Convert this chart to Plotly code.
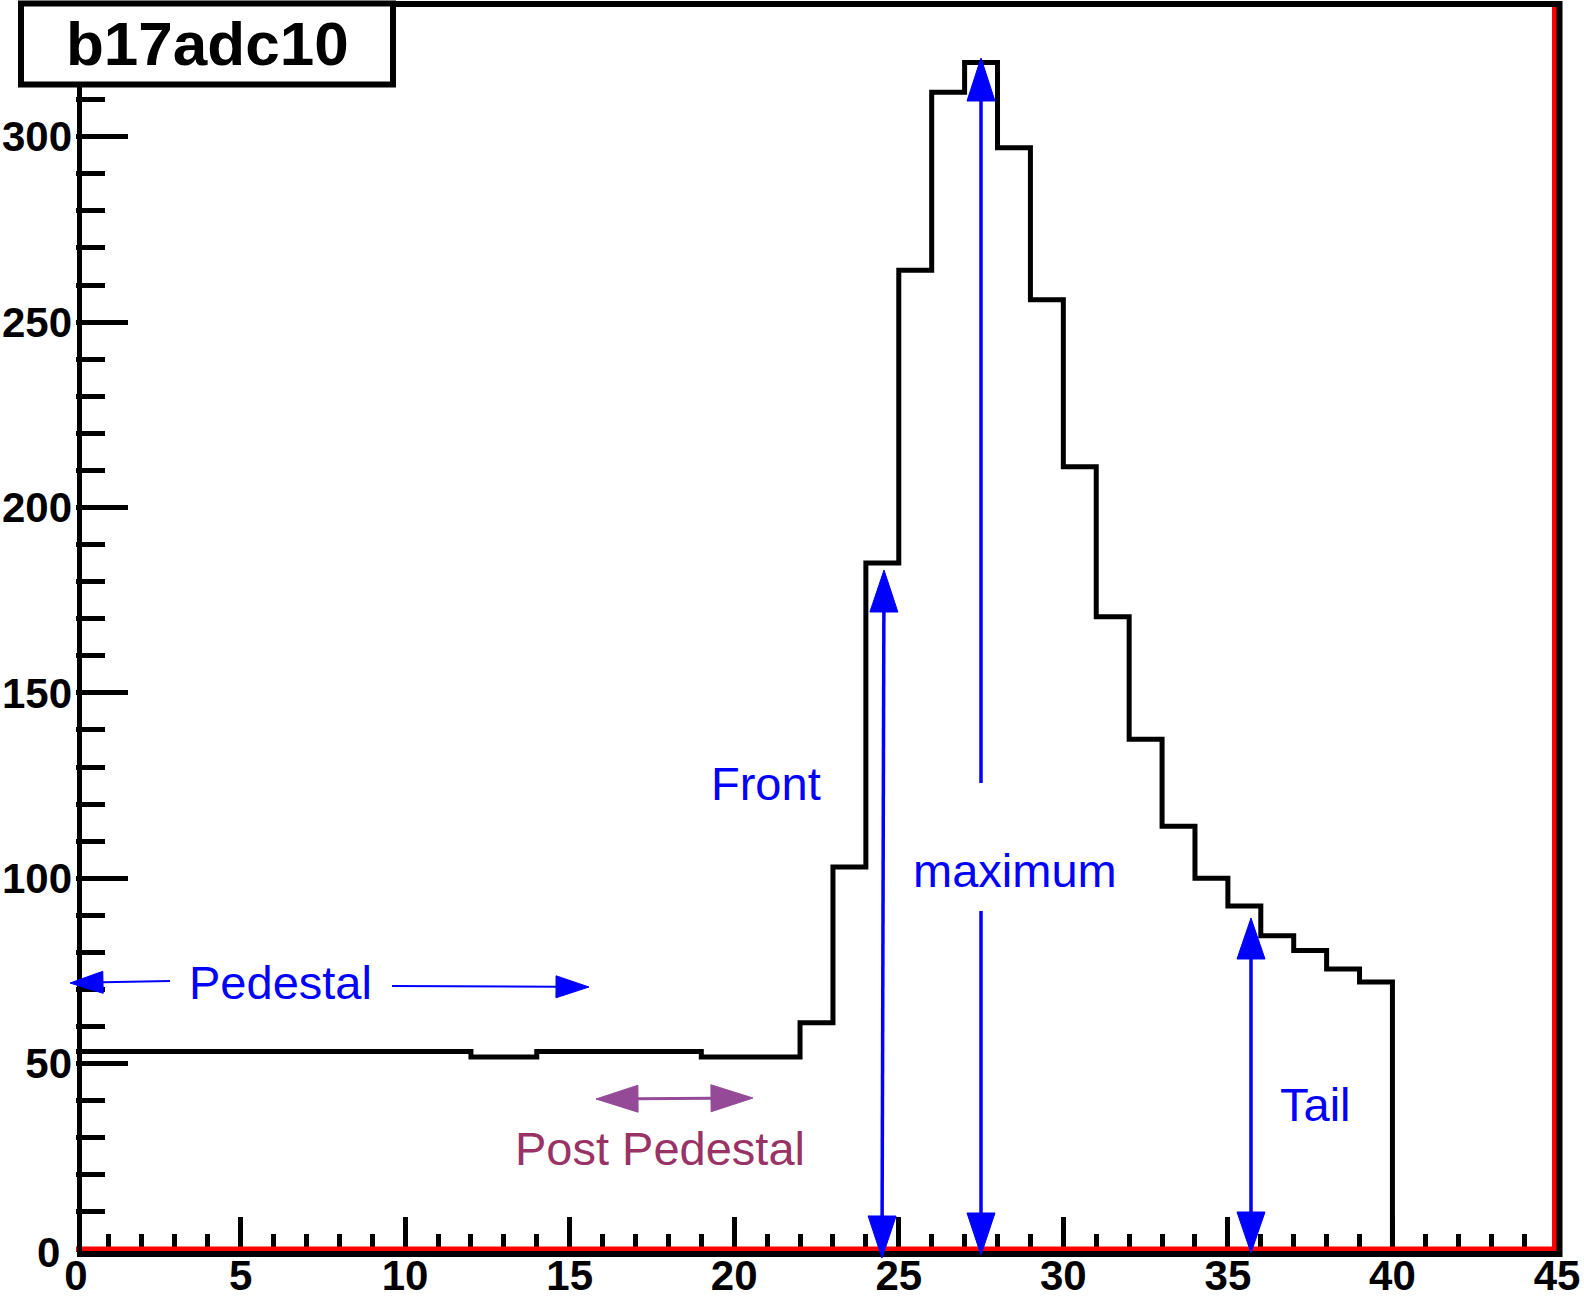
import plotly.graph_objects as go

# ADC samples of channel b17adc10: one count per time bin (bin width 1)
bin_edges = list(range(0, 41))
counts = [53.3, 53.3, 53.3, 53.3, 53.3, 53.3, 53.3, 53.3, 53.3, 53.3, 53.3, 53.3,
          51.8, 51.8,
          53.3, 53.3, 53.3, 53.3, 53.3,
          51.8, 51.8, 51.8,
          61, 103, 185, 264, 312, 320, 297, 256, 211, 170.5, 137.5, 114,
          100, 92.5, 84.5, 80.5, 75.5, 72]

x_ticks = [0, 5, 10, 15, 20, 25, 30, 35, 40, 45]
y_ticks = [50, 100, 150, 200, 250, 300]
y_origin_label = "0"
hist_name = "b17adc10"

# canvas / frame geometry (pixels)
W, H = 1584, 1301
PL, PR, PT, PB = 76, 1557, 7, 1251
Y_PER_PX = 1 / 3.7077
Y0_PX = 1249
ymin = -(PB - Y0_PX) * Y_PER_PX
ymax = (Y0_PX - PT) * Y_PER_PX


def fx(px):
    return (px - PL) / (PR - PL)


def fy(py):
    return (PB - py) / (PB - PT)


BLUE = "#0000ff"
PURPLE_TXT = "#993366"
PURPLE_ARR = "#954a97"
FONT = "Liberation Sans, Arial, sans-serif"

fig = go.Figure()
fig.add_trace(go.Scatter(
    x=bin_edges + [bin_edges[-1]],
    y=counts + [counts[-1], 0],
    mode="lines",
    line=dict(color="black", width=5, shape="hv"),
    hoverinfo="skip",
    showlegend=False,
))

shapes = []


def seg(x0, y0, x1, y1, color, width):
    shapes.append(dict(type="line", xref="paper", yref="paper",
                       x0=fx(x0), y0=fy(y0), x1=fx(x1), y1=fy(y1),
                       line=dict(color=color, width=width), layer="above"))


def head(tx, ty, bx, by, half_w, color):
    # triangle with tip (tx, ty) and base centred at (bx, by)
    dx, dy = tx - bx, ty - by
    n = (dx * dx + dy * dy) ** 0.5
    px_, py_ = -dy / n * half_w, dx / n * half_w
    pts = [(tx, ty), (bx + px_, by + py_), (bx - px_, by - py_)]
    path = "M " + " L ".join(f"{fx(a):.5f},{fy(b):.5f}" for a, b in pts) + " Z"
    shapes.append(dict(type="path", xref="paper", yref="paper", path=path,
                       fillcolor=color, line=dict(color=color, width=1), layer="above"))


def arrow(x0, y0, x1, y1, color, width, hl, hw, both=False):
    dx, dy = x1 - x0, y1 - y0
    n = (dx * dx + dy * dy) ** 0.5
    ux, uy = dx / n, dy / n
    sx0, sy0 = (x0 + ux * hl, y0 + uy * hl) if both else (x0, y0)
    seg(sx0, sy0, x1 - ux * hl, y1 - uy * hl, color, width)
    head(x1, y1, x1 - ux * hl, y1 - uy * hl, hw / 2, color)
    if both:
        head(x0, y0, x0 + ux * hl, y0 + uy * hl, hw / 2, color)


# frame: red pad lines inside black border
seg(PL, 1249, PR, 1249, "#ff0000", 5)
seg(1554.5, 1249, 1554.5, PT, "#ff0000", 5)
seg(77, 1254, 1562, 1254, "black", 6)
seg(1559.5, 1, 1559.5, 1257, "black", 6)
seg(77, 4, 1562, 4, "black", 6)
seg(79.5, 1, 79.5, 1257, "black", 5)

# annotation arrows
arrow(170, 981, 70, 983, BLUE, 2, 33, 22)
arrow(392, 986, 589, 987, BLUE, 2, 33, 22)
arrow(882, 1258, 884, 570, BLUE, 3.5, 42, 28, both=True)
arrow(981, 783, 981, 58, BLUE, 3.5, 43, 28)
arrow(981, 911, 981, 1255, BLUE, 3.5, 42, 28)
arrow(1251, 1253, 1251, 918, BLUE, 3.5, 41, 28, both=True)
arrow(596, 1099, 753, 1098, PURPLE_ARR, 3, 42, 27, both=True)

# histogram title box
shapes.append(dict(type="rect", xref="paper", yref="paper",
                   x0=fx(21), y0=fy(3.5), x1=fx(393), y1=fy(84.5),
                   fillcolor="white", line=dict(color="black", width=6), layer="above"))

annotations = []


def label(text, cx, cy, color, size, bold=False):
    annotations.append(dict(text=text, xref="paper", yref="paper",
                            x=fx(cx), y=fy(cy), xanchor="center", yanchor="middle",
                            showarrow=False,
                            font=dict(family=FONT, size=size, color=color,
                                      weight="bold" if bold else "normal")))


label(hist_name, 207, 43, "black", 62, bold=True)
label("Pedestal", 280, 983, BLUE, 47)
label("Front", 766, 784, BLUE, 47)
label("maximum", 1015, 870, BLUE, 47)
label("Tail", 1315, 1104, BLUE, 47)
label("Post Pedestal", 660, 1148, PURPLE_TXT, 47)

# origin label of the y axis, set a little left of the other y labels
annotations.append(dict(text=y_origin_label, xref="paper", yref="y",
                        x=fx(62), y=0, xanchor="right", yanchor="middle",
                        yshift=-3, showarrow=False,
                        font=dict(family=FONT, size=42, color="black", weight="bold")))

x_tick_font = dict(family=FONT, size=42, color="black", weight="bold")
y_tick_font = dict(family=FONT, size=42, color="black", weight="bold")

fig.update_layout(
    width=W, height=H,
    margin=dict(l=PL, r=W - PR, t=PT, b=H - PB, pad=0),
    paper_bgcolor="white", plot_bgcolor="white",
    showlegend=False,
    shapes=shapes,
    annotations=annotations,
    xaxis=dict(
        range=[0, 45], tickvals=x_ticks, ticktext=[str(v) for v in x_ticks],
        ticks="inside", ticklen=34, tickwidth=5, tickcolor="black",
        minor=dict(dtick=1, tick0=0, ticks="inside", ticklen=17, tickwidth=5,
                   tickcolor="black", showgrid=False),
        showgrid=False, zeroline=False, showline=False,
        tickfont=x_tick_font, automargin=False, ticklabelstandoff=-4,
    ),
    yaxis=dict(
        range=[ymin, ymax], tickvals=y_ticks, ticktext=[str(v) for v in y_ticks],
        ticks="inside", ticklen=52, tickwidth=5, tickcolor="black",
        minor=dict(dtick=10, tick0=0, ticks="inside", ticklen=29, tickwidth=5,
                   tickcolor="black", showgrid=False),
        showgrid=False, zeroline=False, showline=False,
        tickfont=y_tick_font, automargin=False, ticklabelstandoff=3,
    ),
)

fig.write_html("out.html")
